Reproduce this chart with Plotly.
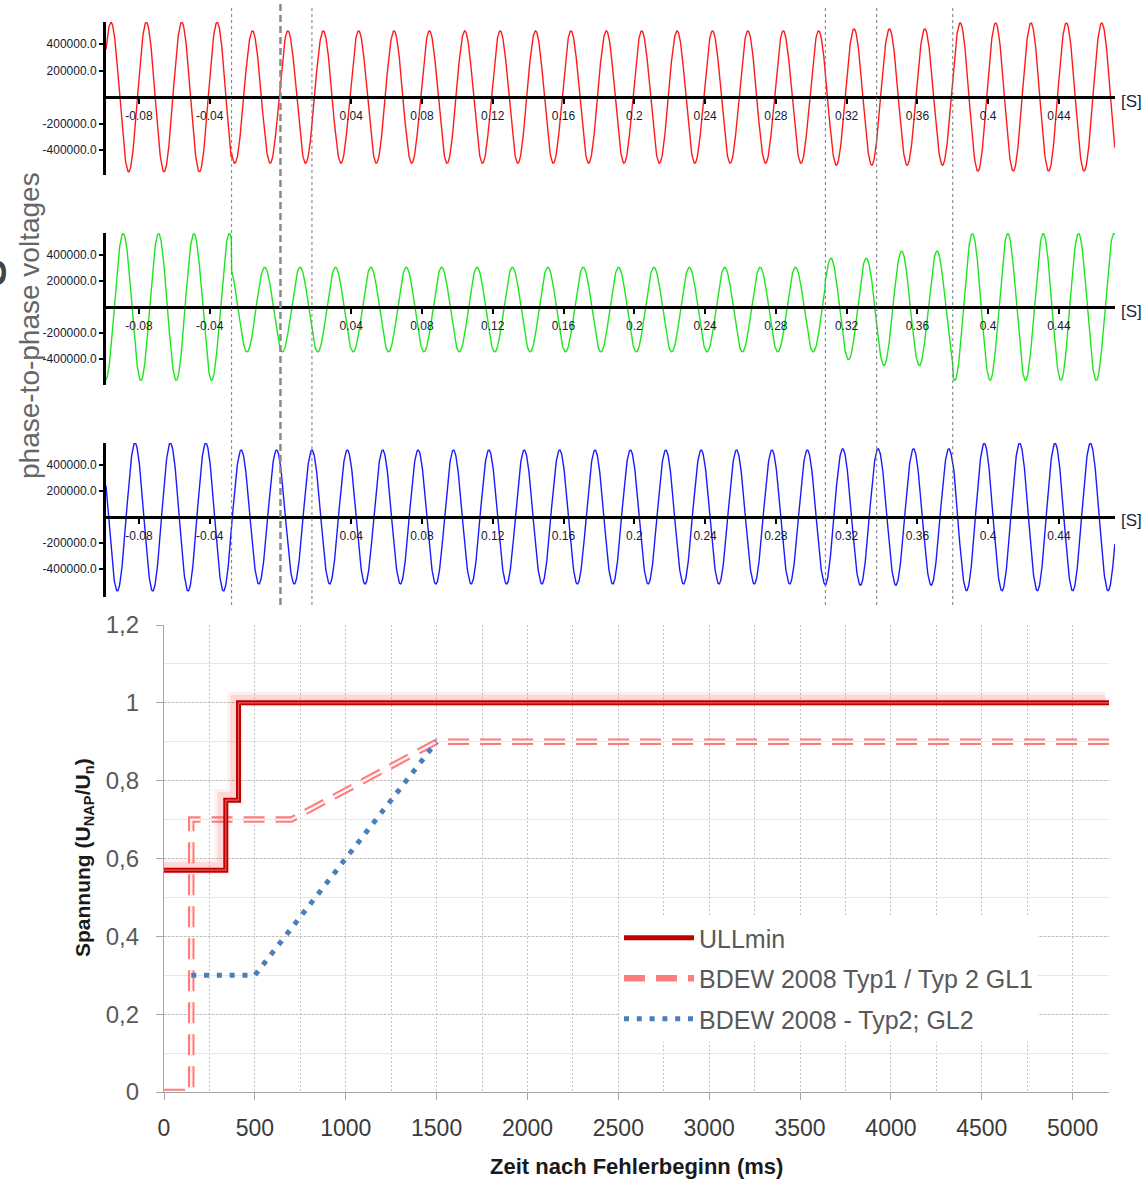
import numpy as np
import plotly.graph_objects as go

W, H = 1142, 1181

# ---------------- top: phase-to-phase voltages (time in s) ----------------
seg_bounds = [-0.0276, 0.308, 0.337, 0.380]          # amplitude changes
red_amp = [565000, 500000, 515000, 515000, 560000]
red_off = [0, 0, 0, 0, 0]
green_amp = [565000, 325000, 390000, 440000, 565000]
green_off = [0, -20000, -15000, -10000, 0]
blue_amp = [569000, 515000, 525000, 525000, 567000]
blue_off = [0, 0, 0, 0, 0]
peak_time = {"red": -0.0958, "green": -0.0889, "blue": -0.0822}
freq_hz = 50
t_start, t_end = -0.0986, 0.4717

marker_times = [-0.0276, 0.0178, 0.308, 0.337, 0.380]   # dotted cursors
fault_time = [0.0]                                         # dashed cursor

xtick_vals_top = [-0.08, -0.04, 0.04, 0.08, 0.12, 0.16, 0.2, 0.24, 0.28, 0.32, 0.36, 0.4, 0.44]
xtick_text_top = ["-0.08", "-0.04", "0.04", "0.08", "0.12", "0.16", "0.2", "0.24", "0.28",
                  "0.32", "0.36", "0.4", "0.44"]
ytick_vals_top = [-400000, -200000, 200000, 400000]
ytick_text_top = ["-400000.0", "-200000.0", "200000.0", "400000.0"]

# ---------------- bottom: FRT curves ----------------
ull_x = [0, 340, 340, 410, 410, 5200]
ull_y = [0.57, 0.57, 0.75, 0.75, 1.0, 1.0]
typ1_x = [0, 150, 150, 700, 1500, 5200]
typ1_y = [0, 0, 0.7, 0.7, 0.9, 0.9]
typ2_x = [150, 500, 1500]
typ2_y = [0.3, 0.3, 0.9]
bx_ticks = [0, 500, 1000, 1500, 2000, 2500, 3000, 3500, 4000, 4500, 5000]
by_ticks = [0, 0.2, 0.4, 0.6, 0.8, 1.0, 1.2]
by_text = ["0", "0,2", "0,4", "0,6", "0,8", "1", "1,2"]


def px(p):
    return p / W


def py(p):
    return 1 - p / H


def wave(amps, offs, tpk):
    t = np.arange(t_start, t_end + 1e-4, 0.0002)
    idx = np.searchsorted(np.array(seg_bounds), t)
    a = np.array(amps, dtype=float)[idx]
    o = np.array(offs, dtype=float)[idx]
    return t, o + a * np.cos(2 * np.pi * freq_hz * (t - tpk))


fig = go.Figure()

panels = [
    # (color, amps, offs, peak, y-domain px (top,bottom), y-range, [S] label y px)
    ("#ff1a1a", red_amp, red_off, peak_time["red"], (22, 175), (-589000, 567000), 101),
    ("#1ee61e", green_amp, green_off, peak_time["green"], (233, 385), (-600000, 569000), 311),
    ("#1a1aff", blue_amp, blue_off, peak_time["blue"], (443, 597), (-615000, 569000), 521),
]

tick_font_top = dict(family="Liberation Sans, Arial, sans-serif", size=12, color="#141a33")
layout_axes = {}
annotations = []
for i, (col, amps, offs, tpk, (ytop, ybot), yr, s_y) in enumerate(panels, start=1):
    t, v = wave(amps, offs, tpk)
    xa = "x" if i == 1 else f"x{i}"
    ya = "y" if i == 1 else f"y{i}"
    fig.add_trace(go.Scatter(x=t, y=v, mode="lines", line=dict(color=col, width=1.4),
                             xaxis=xa, yaxis=ya, showlegend=False, hoverinfo="skip"))
    d0, d1 = py(ybot), py(ytop)
    zero_pos = d0 + (0 - yr[0]) / (yr[1] - yr[0]) * (d1 - d0)
    xkey = "xaxis" if i == 1 else f"xaxis{i}"
    ykey = "yaxis" if i == 1 else f"yaxis{i}"
    layout_axes[xkey] = dict(
        domain=[px(106), px(1115)], range=[t_start, t_end], anchor="free", position=zero_pos,
        showline=True, linecolor="black", linewidth=3, showgrid=False, zeroline=False,
        ticks="outside", ticklen=5, tickwidth=2, tickcolor="black",
        tickvals=xtick_vals_top, ticktext=xtick_text_top, tickfont=tick_font_top,
        ticklabelstandoff=2, automargin=False,
    )
    layout_axes[ykey] = dict(
        domain=[d0, d1], range=list(yr), anchor=xa,
        showline=True, linecolor="black", linewidth=3, showgrid=False, zeroline=False,
        ticks="outside", ticklen=4, tickwidth=2, tickcolor="black",
        tickvals=ytick_vals_top, ticktext=ytick_text_top, tickfont=tick_font_top,
        automargin=False,
    )
    annotations.append(dict(x=px(1131), y=py(s_y), xref="paper", yref="paper", text="[S]",
                            showarrow=False, xanchor="center", yanchor="middle",
                            font=dict(family="Liberation Sans, Arial", size=17, color="#1c2541")))

# cursor lines across the three top panels
shapes = []
for tm in marker_times:
    shapes.append(dict(type="line", xref="x", yref="paper", x0=tm, x1=tm, y0=py(605), y1=py(6),
                       line=dict(color="#7a7a7a", width=1, dash="3px,3px")))
for tm in fault_time:
    shapes.append(dict(type="line", xref="x", yref="paper", x0=tm, x1=tm, y0=py(605), y1=py(4),
                       line=dict(color="#8a8a8a", width=2.5, dash="7px,4px")))

# ---------------- bottom chart traces ----------------
gx = [v - 20 for v in ull_x]
gy = [v + 0.009 for v in ull_y]
fig.add_trace(go.Scatter(x=typ1_x, y=typ1_y, mode="lines", name="BDEW 2008 Typ1 / Typ 2 GL1",
                         line=dict(color="#ff7c7c", width=6.5, dash="21px,11px"),
                         xaxis="x4", yaxis="y4", legendgroup="b", legendrank=2, hoverinfo="skip"))
fig.add_trace(go.Scatter(x=typ1_x, y=typ1_y, mode="lines", showlegend=False,
                         line=dict(color="#fff4f4", width=2.4, dash="21px,11px"),
                         xaxis="x4", yaxis="y4", hoverinfo="skip"))
fig.add_trace(go.Scatter(x=typ2_x, y=typ2_y, mode="lines", name="BDEW 2008 - Typ2; GL2",
                         line=dict(color="#4a7ebb", width=5, dash="5px,7.8px"),
                         xaxis="x4", yaxis="y4", legendgroup="c", legendrank=3, hoverinfo="skip"))
fig.add_trace(go.Scatter(x=gx, y=gy, mode="lines", showlegend=False,
                         line=dict(color="rgba(255,40,40,0.07)", width=15),
                         xaxis="x4", yaxis="y4", hoverinfo="skip"))
fig.add_trace(go.Scatter(x=gx, y=gy, mode="lines", showlegend=False,
                         line=dict(color="rgba(255,40,40,0.12)", width=9),
                         xaxis="x4", yaxis="y4", hoverinfo="skip"))
fig.add_trace(go.Scatter(x=ull_x, y=ull_y, mode="lines", name="ULLmin",
                         line=dict(color="#c00000", width=5),
                         xaxis="x4", yaxis="y4", legendgroup="a", legendrank=1, hoverinfo="skip"))
fig.add_trace(go.Scatter(x=ull_x, y=ull_y, mode="lines", showlegend=False,
                         line=dict(color="rgba(240,110,110,0.8)", width=1.2),
                         xaxis="x4", yaxis="y4", hoverinfo="skip"))

layout_axes["xaxis4"] = dict(
    domain=[px(164), px(1109)], range=[0, 5200], anchor="y4",
    showline=True, linecolor="#a6a6a6", linewidth=1.3, zeroline=False,
    tickvals=bx_ticks, ticks="outside", ticklen=7, tickcolor="#a6a6a6",
    showgrid=True, gridcolor="#c4c4c4", griddash="2px,2px", gridwidth=1,
    minor=dict(dtick=250, tick0=0, showgrid=True, gridcolor="#c4c4c4", griddash="2px,2px", ticks=""),
    tickfont=dict(family="Liberation Sans, Arial", size=23, color="#3a3a3a"),
    ticklabelstandoff=8, automargin=False,
)
layout_axes["yaxis4"] = dict(
    domain=[py(1092), py(625)], range=[0, 1.2], anchor="x4",
    showline=True, linecolor="#a6a6a6", linewidth=1.3, zeroline=False,
    tickvals=by_ticks, ticktext=by_text, ticks="outside", ticklen=7, tickcolor="#a6a6a6",
    showgrid=True, gridcolor="#bdbdbd", griddash="2px,2px", gridwidth=1,
    minor=dict(dtick=0.1, tick0=0, showgrid=True, gridcolor="#e6e6e6", griddash="solid", ticks=""),
    tickfont=dict(family="Liberation Sans, Arial", size=24, color="#595959"),
    ticklabelstandoff=12, automargin=False,
)

annotations += [
    dict(x=px(30), y=py(326), xref="paper", yref="paper", text="phase-to-phase voltages",
         textangle=-90, showarrow=False, xanchor="center", yanchor="middle",
         font=dict(family="Liberation Sans, Arial", size=28, color="#666666")),
    dict(x=px(-8), y=py(273), xref="paper", yref="paper", text="<b>S</b>", textangle=-90,
         showarrow=False, xanchor="center", yanchor="middle",
         font=dict(family="Liberation Sans, Arial", size=40, color="#444444")),
    dict(x=px(636), y=py(1166), xref="paper", yref="paper", text="<b>Zeit nach Fehlerbeginn (ms)</b>",
         showarrow=False, xanchor="center", yanchor="middle",
         font=dict(family="Liberation Sans, Arial", size=22, color="#1a1a1a")),
    dict(x=px(84), y=py(858), xref="paper", yref="paper",
         text="<b>Spannung (U<sub>NAP</sub>/U<sub>n</sub>)</b>", textangle=-90,
         showarrow=False, xanchor="center", yanchor="middle",
         font=dict(family="Liberation Sans, Arial", size=21, color="#1a1a1a")),
]

fig.update_layout(
    width=W, height=H, margin=dict(l=0, r=0, t=0, b=0, pad=0, autoexpand=False),
    paper_bgcolor="white", plot_bgcolor="white",
    shapes=shapes, annotations=annotations,
    legend=dict(x=px(619), y=py(915), xanchor="left", yanchor="top", bgcolor="white",
                font=dict(family="Liberation Sans, Arial", size=25, color="#595959"),
                itemwidth=70, tracegroupgap=5, borderwidth=0, traceorder="grouped"),
    **layout_axes,
)

fig.write_html("out.html")
